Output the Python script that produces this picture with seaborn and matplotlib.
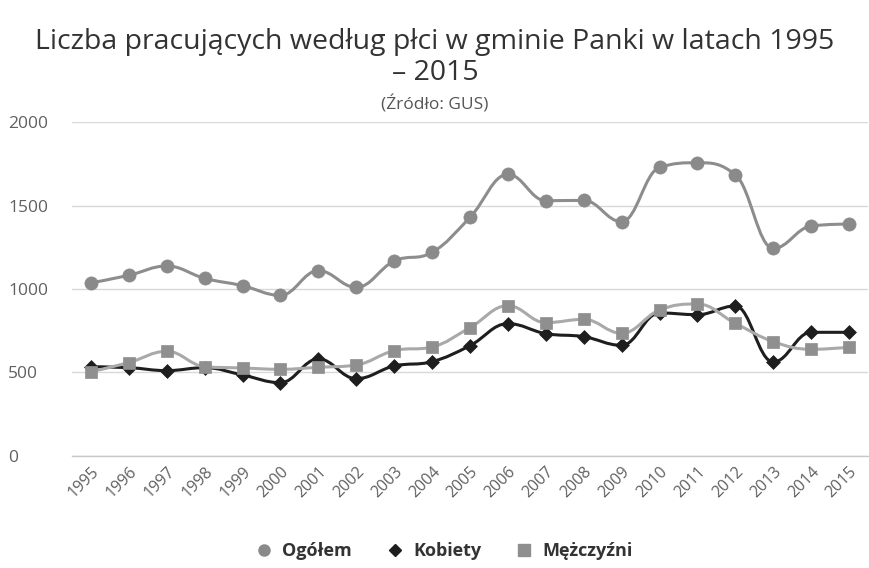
import numpy as np
import pandas as pd
import matplotlib
matplotlib.use("Agg")
import matplotlib.pyplot as plt
import seaborn as sns
from matplotlib.path import Path
from matplotlib.patches import PathPatch
from matplotlib.lines import Line2D
from matplotlib.ticker import FixedLocator

years = [str(y) for y in range(1995, 2016)]
ogolem = [1037, 1082, 1138, 1064, 1020, 962, 1110, 1010, 1168, 1220, 1430,
          1688, 1530, 1532, 1404, 1730, 1758, 1686, 1244, 1378, 1390]
kobiety = [533, 528, 510, 528, 484, 438, 580, 462, 538, 564, 660,
           792, 732, 714, 662, 856, 846, 898, 562, 740, 740]
mezczyzni = [504, 558, 626, 534, 526, 518, 530, 544, 630, 652, 768,
             900, 798, 818, 734, 874, 910, 794, 684, 638, 650]
series_names = ["Ogółem", "Kobiety", "Mężczyźni"]
title = "Liczba pracujących według płci w gminie Panki w latach 1995\n– 2015"
subtitle = "(Źródło: GUS)"
yticks = [0, 500, 1000, 1500, 2000]

sns.set_theme(style="white")
plt.rcParams["font.family"] = ["Open Sans", "DejaVu Sans"]

fig = plt.figure(figsize=(8.7, 5.68), dpi=100)
ax = fig.add_axes([72 / 870, 1 - 455.6 / 568, (868 - 72) / 870, (455.6 - 122.4) / 568])


def spline_path(xs, ys, smoothing=1.5):
    # Highcharts-style spline control points
    n = len(xs)
    denom = smoothing + 1
    lc = [None] * n
    rc = [None] * n
    for i in range(1, n - 1):
        px, py = xs[i], ys[i]
        lx, ly = xs[i - 1], ys[i - 1]
        nx, ny = xs[i + 1], ys[i + 1]
        lcx = (smoothing * px + lx) / denom
        lcy = (smoothing * py + ly) / denom
        rcx = (smoothing * px + nx) / denom
        rcy = (smoothing * py + ny) / denom
        corr = ((rcy - lcy) * (rcx - px)) / (rcx - lcx) + py - rcy
        lcy += corr
        rcy += corr
        if lcy > ly and lcy > py:
            lcy = max(ly, py)
            rcy = 2 * py - lcy
        elif lcy < ly and lcy < py:
            lcy = min(ly, py)
            rcy = 2 * py - lcy
        if rcy > ny and rcy > py:
            rcy = max(ny, py)
            lcy = 2 * py - rcy
        elif rcy < ny and rcy < py:
            rcy = min(ny, py)
            lcy = 2 * py - rcy
        lc[i] = (lcx, lcy)
        rc[i] = (rcx, rcy)
    verts = [(xs[0], ys[0])]
    codes = [Path.MOVETO]
    for i in range(1, n):
        c1 = rc[i - 1] if rc[i - 1] is not None else (xs[i - 1], ys[i - 1])
        c2 = lc[i] if lc[i] is not None else (xs[i], ys[i])
        verts += [c1, c2, (xs[i], ys[i])]
        codes += [Path.CURVE4] * 3
    return Path(verts, codes)


df = pd.DataFrame({"Rok": years, "idx": np.arange(len(years)),
                   "Ogółem": ogolem, "Kobiety": kobiety, "Mężczyźni": mezczyzni})

styles = {
    "Ogółem": dict(line="#8d8d8d", mk="#8a8a8a", marker="o", s=90),
    "Kobiety": dict(line="#1e1e1e", mk="#1e1e1e", marker="D", s=50),
    "Mężczyźni": dict(line="#a9a9a9", mk="#8f8f8f", marker="s", s=80),
}

for z, name in enumerate(series_names):
    st = styles[name]
    path = spline_path(df["idx"].astype(float).tolist(), df[name].astype(float).tolist())
    ax.add_patch(PathPatch(path, facecolor="none", edgecolor=st["line"], lw=2.2,
                           zorder=3 + 2 * z, capstyle="round", joinstyle="round"))
    sns.scatterplot(data=df, x="idx", y=name, ax=ax, marker=st["marker"], s=st["s"],
                    color=st["mk"], edgecolor=st["mk"], linewidth=0.5,
                    zorder=4 + 2 * z, legend=False)

ax.set_xlim(-0.5, len(years) - 0.5)
ax.set_ylim(0, 2000)
ax.set_yticks(yticks)
ax.set_yticklabels([str(v) for v in yticks])
ax.set_xticks(np.arange(len(years)))
ax.set_xticklabels(years)
ax.xaxis.set_minor_locator(FixedLocator(np.arange(-0.5, len(years), 1.0)))
ax.set_xlabel("")
ax.set_ylabel("")
ax.grid(axis="y", color="#d8d8d8", lw=1)
ax.set_axisbelow(True)
for s in ["left", "right", "top"]:
    ax.spines[s].set_visible(False)
ax.spines["bottom"].set_color("#c8c8c8")
ax.spines["bottom"].set_linewidth(1)

ax.tick_params(axis="x", which="major", length=0, pad=6, labelsize=11.5, labelcolor="#606060")
ax.tick_params(axis="x", which="minor", length=7, width=1, color="#c8c8c8", direction="out")
for lab in ax.get_xticklabels():
    lab.set_rotation(45)
    lab.set_ha("right")
    lab.set_va("top")
    lab.set_rotation_mode("anchor")
ax.tick_params(axis="y", length=0, pad=46, labelsize=12.5, labelcolor="#606060")
for lab in ax.get_yticklabels():
    lab.set_ha("left")

fig.text(0.5, 1 - 57.5 / 568, title, ha="center", va="center", fontsize=20.5,
         color="#333333", linespacing=1.17)
fig.text(0.5, 1 - 104 / 568, subtitle, ha="center", va="center", fontsize=12.5, color="#555555")

handles = [Line2D([], [], ls="none", marker=styles[n]["marker"], color=styles[n]["mk"],
                  markersize=8 if n != "Kobiety" else 6.5) for n in series_names]
fig.legend(handles, series_names, loc="center", bbox_to_anchor=(0.51, 1 - 551 / 568),
           ncol=3, frameon=False, prop={"weight": "bold", "size": 13},
           handlelength=1.0, handletextpad=0.5, columnspacing=1.9, labelcolor="#333333")

fig.savefig("out.png", dpi=100)
